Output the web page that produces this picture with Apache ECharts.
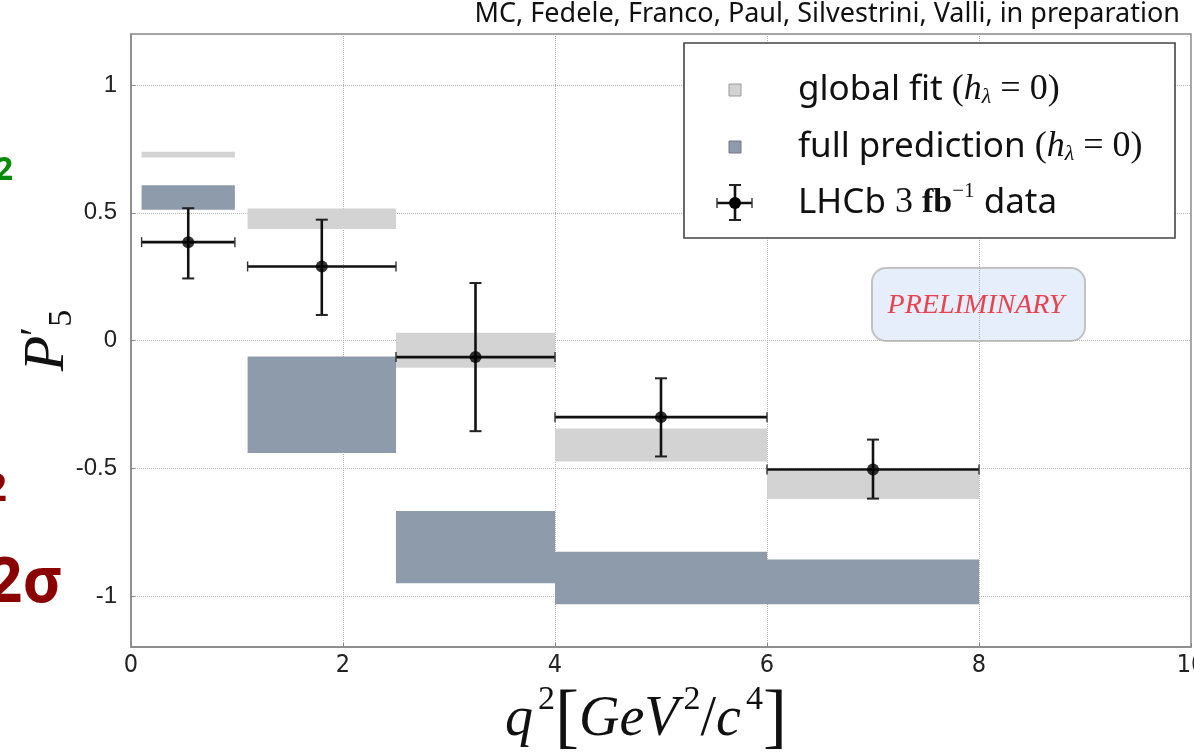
<!DOCTYPE html>
<html><head><meta charset="utf-8">
<script src="https://cdn.jsdelivr.net/npm/echarts@6/dist/echarts.min.js"></script>
<style>html,body{margin:0;padding:0;background:#fff}#c{width:1194px;height:755px}</style>
</head><body><div id="c"></div>
<script>
// ---- data ----
const binLo = [0.1, 1.1, 2.5, 4, 6];
const binHi = [0.98, 2.5, 4, 6, 8];
const dataX = [0.54, 1.8, 3.25, 5.0, 7.0];
const dataY = [0.385, 0.29, -0.065, -0.30, -0.505];
const errUp = [0.133, 0.183, 0.29, 0.152, 0.117];
const errDn = [0.142, 0.19, 0.29, 0.154, 0.114];
const fitLo = [0.716, 0.437, -0.107, -0.474, -0.621];
const fitHi = [0.739, 0.517, 0.030, -0.345, -0.510];
const predLo = [0.512, -0.440, -0.950, -1.033, -1.033];
const predHi = [0.608, -0.063, -0.668, -0.827, -0.857];
const xTicks = [0, 2, 4, 6, 8, 10];
const yTicks = [-1, -0.5, 0, 0.5, 1];

const FIT_COLOR = '#d3d3d3';
const PRED_COLOR = '#8d9bab';
const SERIF = '"Liberation Serif", "DejaVu Serif", serif';
const SANS = '"Noto Sans", "DejaVu Sans", sans-serif';

function boxRender(color) {
  return function (params, api) {
    const p0 = api.coord([api.value(0), api.value(3)]);
    const p1 = api.coord([api.value(1), api.value(2)]);
    return { type: 'rect', shape: { x: p0[0], y: p0[1], width: p1[0] - p0[0], height: p1[1] - p0[1] },
             style: { fill: color } };
  };
}
function errRender(params, api) {
  const x = api.value(0), y = api.value(1);
  const c = api.coord([x, y]);
  const l = api.coord([api.value(2), y]);
  const r = api.coord([api.value(3), y]);
  const t = api.coord([x, api.value(5)]);
  const b = api.coord([x, api.value(4)]);
  const st = { stroke: '#111', lineWidth: 2.6 };
  const cap = { stroke: '#333', lineWidth: 1.4 };
  return { type: 'group', children: [
    { type: 'line', shape: { x1: l[0], y1: c[1], x2: r[0], y2: c[1] }, style: st },
    { type: 'line', shape: { x1: c[0], y1: t[1], x2: c[0], y2: b[1] }, style: st },
    { type: 'line', shape: { x1: l[0], y1: c[1] - 5, x2: l[0], y2: c[1] + 5 }, style: cap },
    { type: 'line', shape: { x1: r[0], y1: c[1] - 5, x2: r[0], y2: c[1] + 5 }, style: cap },
    { type: 'line', shape: { x1: c[0] - 6, y1: t[1], x2: c[0] + 6, y2: t[1] }, style: { stroke: '#222', lineWidth: 2 } },
    { type: 'line', shape: { x1: c[0] - 6, y1: b[1], x2: c[0] + 6, y2: b[1] }, style: { stroke: '#222', lineWidth: 2 } }
  ] };
}

const fitData = binLo.map((l, i) => [l, binHi[i], fitLo[i], fitHi[i]]);
const predData = binLo.map((l, i) => [l, binHi[i], predLo[i], predHi[i]]);
const errData = dataX.map((x, i) => [x, dataY[i], binLo[i], binHi[i], dataY[i] - errDn[i], dataY[i] + errUp[i]]);
const ptData = dataX.map((x, i) => [x, dataY[i]]);

const chart = echarts.init(document.getElementById('c'), null, { renderer: 'canvas' });

const legendTextRich = {
  a: { fontFamily: SANS, fontSize: 35, fill: '#111' },
  m: { fontFamily: SERIF, fontSize: 36, fill: '#111' },
  i: { fontFamily: SERIF, fontStyle: 'italic', fontSize: 36, fill: '#111' },
  sub: { fontFamily: SERIF, fontStyle: 'italic', fontSize: 22, fill: '#111', verticalAlign: 'bottom', lineHeight: 26 },
  b: { fontFamily: SERIF, fontWeight: 'bold', fontSize: 34, fill: '#111' },
  sup: { fontFamily: SERIF, fontSize: 21, fill: '#111', verticalAlign: 'top', lineHeight: 44 }
};

chart.setOption({
  animation: false,
  backgroundColor: '#fff',
  grid: { left: 131, right: 3, top: 34, bottom: 108, containLabel: false, outerBoundsMode: 'none',
          show: true, borderColor: '#888', borderWidth: 1.5 },
  xAxis: {
    type: 'value', min: 0, max: 10, interval: 2,
    axisLine: { show: true, onZero: false, lineStyle: { color: '#888', width: 1.5 } },
    axisTick: { show: true, inside: true, length: 4, lineStyle: { color: '#888' } },
    axisLabel: { color: '#222', fontSize: 25, fontFamily: '"Liberation Sans Narrow", "DejaVu Sans Condensed", sans-serif', margin: 6,
                 customValues: xTicks, formatter: v => String(v) },
    splitLine: { show: true, lineStyle: { type: 'dotted', color: '#b0b0b0', width: 1 } },
    name: '{q|q}{sup|2}{br|[}{v|GeV}{sup|2}{n|/}{v|c}{sup|4}{br|]}',
    nameLocation: 'middle', nameGap: 33,
    nameTextStyle: {
      padding: [0, 30, 0, 0],
      rich: {
        q: { fontFamily: SERIF, fontStyle: 'italic', fontSize: 56, color: '#111', lineHeight: 74 },
        v: { fontFamily: SERIF, fontStyle: 'italic', fontSize: 56, color: '#111', lineHeight: 74 },
        n: { fontFamily: SERIF, fontSize: 56, color: '#111', lineHeight: 74 },
        br: { fontFamily: SERIF, fontSize: 72, color: '#111', lineHeight: 74 },
        sup: { fontFamily: SERIF, fontSize: 34, color: '#111', verticalAlign: 'top', lineHeight: 42, padding: [0, 0, 0, 5] }
      }
    }
  },
  yAxis: {
    type: 'value', min: -1.2, max: 1.2,
    axisLine: { show: true, onZero: false, lineStyle: { color: '#888', width: 1.5 } },
    axisTick: { show: true, inside: true, length: 4, customValues: yTicks, lineStyle: { color: '#888' } },
    axisLabel: { color: '#222', fontSize: 24, fontFamily: '"Liberation Sans", Arial, sans-serif', margin: 14,
                 customValues: yTicks, formatter: v => String(v) },
    splitLine: { show: true, lineStyle: { type: 'dotted', color: '#b0b0b0', width: 1 } },
    name: '{p|P}{pr|′}{s|5}',
    nameLocation: 'middle', nameRotate: 90, nameGap: 52, nameMoveOverlap: false,
    nameTextStyle: {
      rich: {
        p: { fontFamily: SERIF, fontStyle: 'italic', fontSize: 58, color: '#111', lineHeight: 62, verticalAlign: 'middle' },
        pr: { fontFamily: SERIF, fontSize: 42, color: '#111', lineHeight: 42, verticalAlign: 'top' },
        s: { fontFamily: SERIF, fontSize: 34, color: '#111', lineHeight: 34, verticalAlign: 'bottom' }
      }
    }
  },
  series: [
    { name: 'global fit', type: 'custom', renderItem: boxRender(FIT_COLOR), data: fitData,
      encode: { x: [0, 1], y: [2, 3] }, z: 1 },
    { name: 'full prediction', type: 'custom', renderItem: boxRender(PRED_COLOR), data: predData,
      encode: { x: [0, 1], y: [2, 3] }, z: 1 },
    { name: 'LHCb', type: 'custom', renderItem: errRender, data: errData,
      encode: { x: [0, 2, 3], y: [1, 4, 5] }, z: 3 },
    { name: 'LHCb pts', type: 'scatter', data: ptData, symbol: 'circle', symbolSize: 12,
      itemStyle: { color: '#000' }, z: 4 }
  ],
  graphic: [
    // author line
    { type: 'text', right: 14, top: 1, z: 10,
      style: { text: 'MC, Fedele, Franco, Paul, Silvestrini, Valli, in preparation', font: '27px ' + SANS, fill: '#111' } },
    // legend box
    { type: 'rect', z: 20, shape: { x: 684, y: 43, width: 491, height: 195 },
      style: { fill: '#fff', stroke: '#444', lineWidth: 1.6 } },
    { type: 'rect', z: 21, shape: { x: 729, y: 84, width: 12, height: 12 },
      style: { fill: FIT_COLOR, stroke: '#999', lineWidth: 1 } },
    { type: 'rect', z: 21, shape: { x: 729, y: 141, width: 12, height: 12 },
      style: { fill: PRED_COLOR, stroke: '#778', lineWidth: 1 } },
    { type: 'line', z: 21, shape: { x1: 717, y1: 203, x2: 752, y2: 203 }, style: { stroke: '#111', lineWidth: 2.6 } },
    { type: 'line', z: 21, shape: { x1: 735, y1: 185, x2: 735, y2: 220 }, style: { stroke: '#111', lineWidth: 2.6 } },
    { type: 'line', z: 21, shape: { x1: 717, y1: 198, x2: 717, y2: 208 }, style: { stroke: '#333', lineWidth: 1.4 } },
    { type: 'line', z: 21, shape: { x1: 752, y1: 198, x2: 752, y2: 208 }, style: { stroke: '#333', lineWidth: 1.4 } },
    { type: 'line', z: 21, shape: { x1: 729, y1: 185, x2: 741, y2: 185 }, style: { stroke: '#222', lineWidth: 2 } },
    { type: 'line', z: 21, shape: { x1: 729, y1: 220, x2: 741, y2: 220 }, style: { stroke: '#222', lineWidth: 2 } },
    { type: 'circle', z: 22, shape: { cx: 735, cy: 203, r: 6 }, style: { fill: '#000' } },
    { type: 'text', z: 22, x: 798, y: 90,
      style: { text: '{a|global fit }{m|(}{i|h}{sub|λ}{m| = 0)}', verticalAlign: 'middle', rich: legendTextRich } },
    { type: 'text', z: 22, x: 798, y: 147,
      style: { text: '{a|full prediction }{m|(}{i|h}{sub|λ}{m| = 0)}', verticalAlign: 'middle', rich: legendTextRich } },
    { type: 'text', z: 22, x: 798, y: 203,
      style: { text: '{a|LHCb }{m|3 }{b|fb}{sup|−1}{a| data}', verticalAlign: 'middle', rich: legendTextRich } },
    // preliminary box
    { type: 'rect', z: 0, shape: { x: 872, y: 268, width: 213, height: 73, r: 14 },
      style: { fill: 'rgba(226,235,251,0.85)', stroke: '#c2c2c2', lineWidth: 2 } },
    { type: 'text', z: 1, x: 976, y: 306,
      style: { text: 'PRELIMINARY', font: 'italic 28px ' + SERIF, fill: '#e6434f', align: 'center', verticalAlign: 'middle' } },
    // cropped slide text at left edge
    { type: 'text', z: 5, x: 13, y: 171,
      style: { text: '2', font: 'bold 32px ' + SANS, fill: '#0a8a0a', align: 'right', verticalAlign: 'middle' } },
    { type: 'text', z: 5, x: 7, y: 490,
      style: { text: '2', font: 'bold 40px ' + SANS, fill: '#8b0000', align: 'right', verticalAlign: 'middle' } },
    { type: 'text', z: 5, x: 63, y: 584,
      style: { text: '2σ', font: 'bold 62px ' + SANS, fill: '#8b0000', align: 'right', verticalAlign: 'middle' } }
  ]
});
</script></body></html>
